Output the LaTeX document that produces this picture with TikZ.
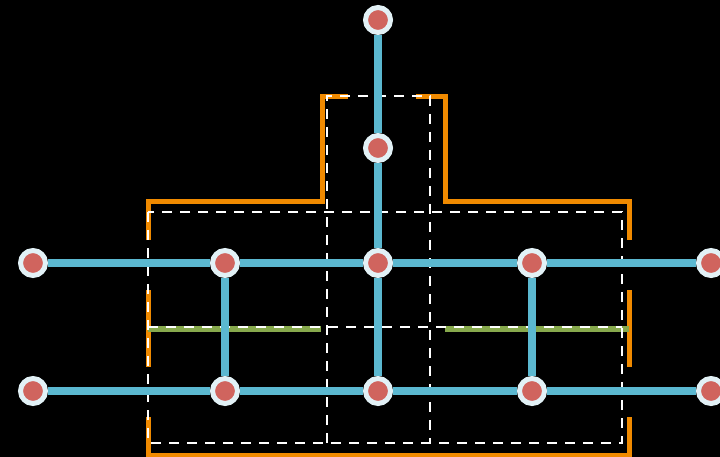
\documentclass[tikz,border=0pt]{standalone}
\definecolor{bg}{HTML}{000000}
\definecolor{linkblue}{HTML}{5BB8D0}
\definecolor{ring}{HTML}{E2F1F6}
\definecolor{dotred}{HTML}{D0645E}
\definecolor{borderorange}{HTML}{F08A00}
\definecolor{levelgreen}{HTML}{86A84C}
\begin{document}
\begin{tikzpicture}[x=1pt,y=-1pt,
  station/.style={circle,draw=ring,fill=dotred,line width=5pt,minimum size=25pt,inner sep=0pt},
  link/.style={draw=linkblue,line width=8pt},
  fence/.style={draw=borderorange,line width=5pt},
  level/.style={draw=levelgreen,line width=6pt},
  grid/.style={draw=white,line width=2.5pt,dash pattern=on 10pt off 8pt}]
\fill[bg] (0,0) rectangle (720,457);
\useasboundingbox (0,0) rectangle (720,457);
% orange outline
\draw[fence] (148,240) -- (148,202) -- (322,202) -- (322,97) -- (348,97);
\draw[fence] (416,97) -- (445,97) -- (445,202) -- (629,202) -- (629,240);
\draw[fence] (148,290) -- (148,367);
\draw[fence] (629,290) -- (629,367);
\draw[fence] (148,417) -- (148,455) -- (629,455) -- (629,417);
% green level lines
\draw[level] (148,329) -- (321,329);
\draw[level] (445,329) -- (629,329);
% dashed white boxes
\draw[grid] (148,212) rectangle (622,443);
\draw[grid] (327,443) -- (327,96) -- (430,96) -- (430,443);
\draw[grid] (148,327) -- (622,327);
% stations
\node[station] (t0) at (378,20) {};
\node[station] (t1) at (378,148) {};
\node[station] (a1) at (33,263) {};
\node[station] (a2) at (225,263) {};
\node[station] (a3) at (378,263) {};
\node[station] (a4) at (532,263) {};
\node[station] (a5) at (711,263) {};
\node[station] (b1) at (33,391) {};
\node[station] (b2) at (225,391) {};
\node[station] (b3) at (378,391) {};
\node[station] (b4) at (532,391) {};
\node[station] (b5) at (711,391) {};
% links
\draw[link] (t0) -- (t1);
\draw[link] (t1) -- (a3);
\draw[link] (a3) -- (b3);
\draw[link] (a1) -- (a2);
\draw[link] (a2) -- (a3);
\draw[link] (a3) -- (a4);
\draw[link] (a4) -- (a5);
\draw[link] (b1) -- (b2);
\draw[link] (b2) -- (b3);
\draw[link] (b3) -- (b4);
\draw[link] (b4) -- (b5);
\draw[link] (a2) -- (b2);
\draw[link] (a4) -- (b4);
\end{tikzpicture}
\end{document}
